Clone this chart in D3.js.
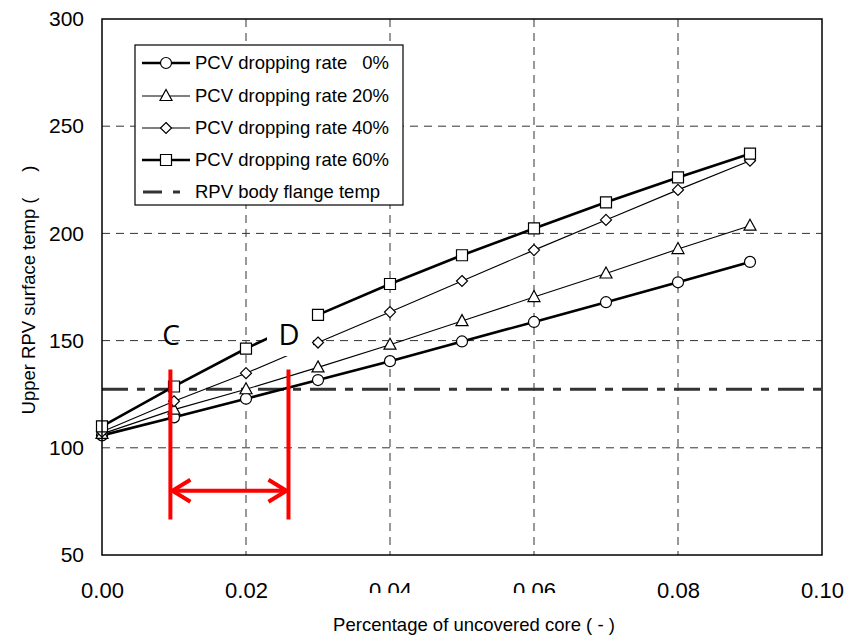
<!DOCTYPE html>
<html lang="en">
  <head>
    <meta charset="UTF-8" />
    <title>Upper RPV surface temp</title>
  </head>
  <style>
    body {
      margin: 0;
      background: #fff;
    }
    svg text {
      font-family: 'Liberation Sans', Arial, sans-serif;
      fill: #000;
    }
  </style>
  <body>
    <svg id="svg" width="852" height="635"></svg>

    <script src="https://d3js.org/d3.v7.min.js"></script>
    <script>
      // values
      const coreShare = [0, 0.01, 0.02, 0.03, 0.04, 0.05, 0.06, 0.07, 0.08, 0.09];
      const rate0 = [105.8, 114.2, 122.9, 131.6, 140.4, 149.6, 158.7, 167.9, 177.2, 186.7];
      const rate20 = [106.5, 117.8, 127.3, 137.5, 148.1, 159.1, 170.3, 181.3, 192.7, 203.6];
      const rate40 = [107.5, 121.7, 134.8, 149.1, 163.3, 177.8, 192.2, 206.3, 220.3, 233.9];
      const rate60 = [110.0, 128.6, 146.3, 162.0, 176.4, 189.8, 202.3, 214.5, 226.1, 237.2];
      const flangeTemp = 127.3;
      const dropRates = [0, 20, 40, 60];
      const xTicks = [0, 0.02, 0.04, 0.06, 0.08, 0.1];
      const yTicks = [50, 100, 150, 200, 250, 300];
      // C / D bracket (x in core share, y in temp)
      const bracketX = [0.0095, 0.0259];
      const bracketY = [136.5, 66.5];
      const arrowY = 80;

      const svg = d3.select('#svg');
      const x = d3.scaleLinear().domain([0, 0.1]).range([102, 822]);
      const y = d3.scaleLinear().domain([50, 300]).range([555, 19]);

      // dashed grid
      svg.append('g')
        .selectAll('line')
        .data(xTicks.slice(1, -1))
        .enter()
        .append('line')
        .attr('x1', (d) => x(d))
        .attr('x2', (d) => x(d))
        .attr('y1', y(300))
        .attr('y2', y(50))
        .attr('stroke', '#333')
        .attr('stroke-width', 1)
        .attr('stroke-dasharray', '8,6');
      svg.append('g')
        .selectAll('line')
        .data(yTicks.slice(1, -1))
        .enter()
        .append('line')
        .attr('x1', x(0))
        .attr('x2', x(0.1))
        .attr('y1', (d) => y(d))
        .attr('y2', (d) => y(d))
        .attr('stroke', '#333')
        .attr('stroke-width', 1)
        .attr('stroke-dasharray', '8,6');

      // axes labels
      const xAxis = svg.append('g')
        .attr('transform', `translate(0,${y(50)})`)
        .call(d3.axisBottom(x).tickValues(xTicks).tickFormat(d3.format('.2f')).tickSize(0).tickPadding(27));
      xAxis.select('.domain').remove();
      xAxis.selectAll('text').style('font-size', '22px').style('font-family', "'Liberation Sans', Arial, sans-serif");

      const yAxis = svg.append('g')
        .attr('transform', `translate(${x(0)},0)`)
        .call(d3.axisLeft(y).tickValues(yTicks).tickSize(0).tickPadding(18));
      yAxis.select('.domain').remove();
      yAxis.selectAll('text').style('font-size', '21px').style('font-family', "'Liberation Sans', Arial, sans-serif");

      // flange temp line
      svg.append('line')
        .attr('x1', x(0))
        .attr('x2', x(0.1))
        .attr('y1', y(flangeTemp))
        .attr('y2', y(flangeTemp))
        .attr('stroke', '#333')
        .attr('stroke-width', 3)
        .attr('stroke-dasharray', '26,9,8,9');

      const series = [
        { vals: rate0, width: 2.6, shape: 'circle' },
        { vals: rate20, width: 1.1, shape: 'triangle' },
        { vals: rate40, width: 1.1, shape: 'diamond' },
        { vals: rate60, width: 2.6, shape: 'square' },
      ];

      const shapes = {
        circle: 'M5.5,0A5.5,5.5,0,1,1,-5.5,0A5.5,5.5,0,1,1,5.5,0Z',
        triangle: 'M0,-6.5L6,4.5L-6,4.5Z',
        diamond: 'M0,-5.5L5.5,0L0,5.5L-5.5,0Z',
        square: 'M-5.5,-5.5H5.5V5.5H-5.5Z',
      };

      const line = d3.line()
        .x((d, i) => x(coreShare[i]))
        .y((d) => y(d));

      series.forEach((s) => {
        svg.append('path')
          .attr('d', line(s.vals))
          .attr('fill', 'none')
          .attr('stroke', '#000')
          .attr('stroke-width', s.width);
      });

      // white box behind the "D" label hides part of the lines
      svg.append('rect')
        .attr('x', 267)
        .attr('y', 304)
        .attr('width', 46)
        .attr('height', 52)
        .attr('fill', '#fff');

      series.forEach((s) => {
        svg.append('g')
          .selectAll('path')
          .data(s.vals)
          .enter()
          .append('path')
          .attr('transform', (d, i) => `translate(${x(coreShare[i])},${y(d)})`)
          .attr('d', shapes[s.shape])
          .attr('fill', '#fff')
          .attr('stroke', '#000')
          .attr('stroke-width', 1.2);
      });

      // C / D labels
      svg.append('text')
        .attr('x', 171)
        .attr('y', 345)
        .attr('text-anchor', 'middle')
        .style('font-family', "'Open Sans', sans-serif")
        .style('font-size', '28px')
        .text('C');
      svg.append('text')
        .attr('x', 289)
        .attr('y', 345)
        .attr('text-anchor', 'middle')
        .style('font-family', "'Open Sans', sans-serif")
        .style('font-size', '29px')
        .text('D');

      // red bracket
      const red = svg.append('g')
        .attr('stroke', '#ff0000')
        .attr('stroke-width', 4)
        .attr('fill', 'none');
      bracketX.forEach((bx) => {
        red.append('line')
          .attr('x1', x(bx))
          .attr('x2', x(bx))
          .attr('y1', y(bracketY[0]))
          .attr('y2', y(bracketY[1]));
      });
      const ax0 = x(bracketX[0]) + 2;
      const ax1 = x(bracketX[1]) - 2;
      const ay = y(arrowY);
      red.append('line').attr('x1', ax0).attr('x2', ax1).attr('y1', ay).attr('y2', ay);
      red.append('path').attr('d', `M${ax0 + 18},${ay - 11}L${ax0},${ay}L${ax0 + 18},${ay + 11}`);
      red.append('path').attr('d', `M${ax1 - 18},${ay - 11}L${ax1},${ay}L${ax1 - 18},${ay + 11}`);

      // plot frame
      svg.append('rect')
        .attr('x', x(0))
        .attr('y', y(300))
        .attr('width', x(0.1) - x(0))
        .attr('height', y(50) - y(300))
        .attr('fill', 'none')
        .attr('stroke', '#000')
        .attr('stroke-width', 1.5);

      // x title box covers the bottom of some tick labels
      svg.append('rect')
        .attr('x', 330)
        .attr('y', 593)
        .attr('width', 290)
        .attr('height', 42)
        .attr('fill', '#fff');
      svg.append('text')
        .attr('x', 474)
        .attr('y', 631)
        .attr('text-anchor', 'middle')
        .style('font-size', '18.5px')
        .text('Percentage of uncovered core ( - )');

      svg.append('text')
        .attr('transform', 'translate(35,290) rotate(-90)')
        .attr('text-anchor', 'middle')
        .style('font-size', '18.5px')
        .text('Upper RPV surface temp (\u00a0\u00a0\u00a0\u00a0\u00a0)');

      // legend
      const legend = svg.append('g');
      legend.append('rect')
        .attr('x', 135)
        .attr('y', 45)
        .attr('width', 268)
        .attr('height', 160)
        .attr('fill', '#fff')
        .attr('stroke', '#000')
        .attr('stroke-width', 1.2);
      const rowY = [63, 96, 128, 160, 192];
      series.forEach((s, i) => {
        legend.append('line')
          .attr('x1', 142)
          .attr('x2', 190)
          .attr('y1', rowY[i])
          .attr('y2', rowY[i])
          .attr('stroke', '#000')
          .attr('stroke-width', s.width);
        legend.append('path')
          .attr('transform', `translate(166,${rowY[i]})`)
          .attr('d', shapes[s.shape])
          .attr('fill', '#fff')
          .attr('stroke', '#000')
          .attr('stroke-width', 1.2);
        legend.append('text')
          .attr('x', 195)
          .attr('y', rowY[i] + 6)
          .style('font-size', '18.5px')
          .text('PCV dropping rate');
        legend.append('text')
          .attr('x', 389)
          .attr('y', rowY[i] + 6)
          .attr('text-anchor', 'end')
          .style('font-size', '18.5px')
          .text(dropRates[i] + '%');
      });
      legend.append('line')
        .attr('x1', 143)
        .attr('x2', 185)
        .attr('y1', rowY[4])
        .attr('y2', rowY[4])
        .attr('stroke', '#333')
        .attr('stroke-width', 3)
        .attr('stroke-dasharray', '19,11,7,20');
      legend.append('text')
        .attr('x', 195)
        .attr('y', rowY[4] + 6)
        .style('font-size', '18.5px')
        .text('RPV body flange temp');
    </script>
  </body>
</html>
